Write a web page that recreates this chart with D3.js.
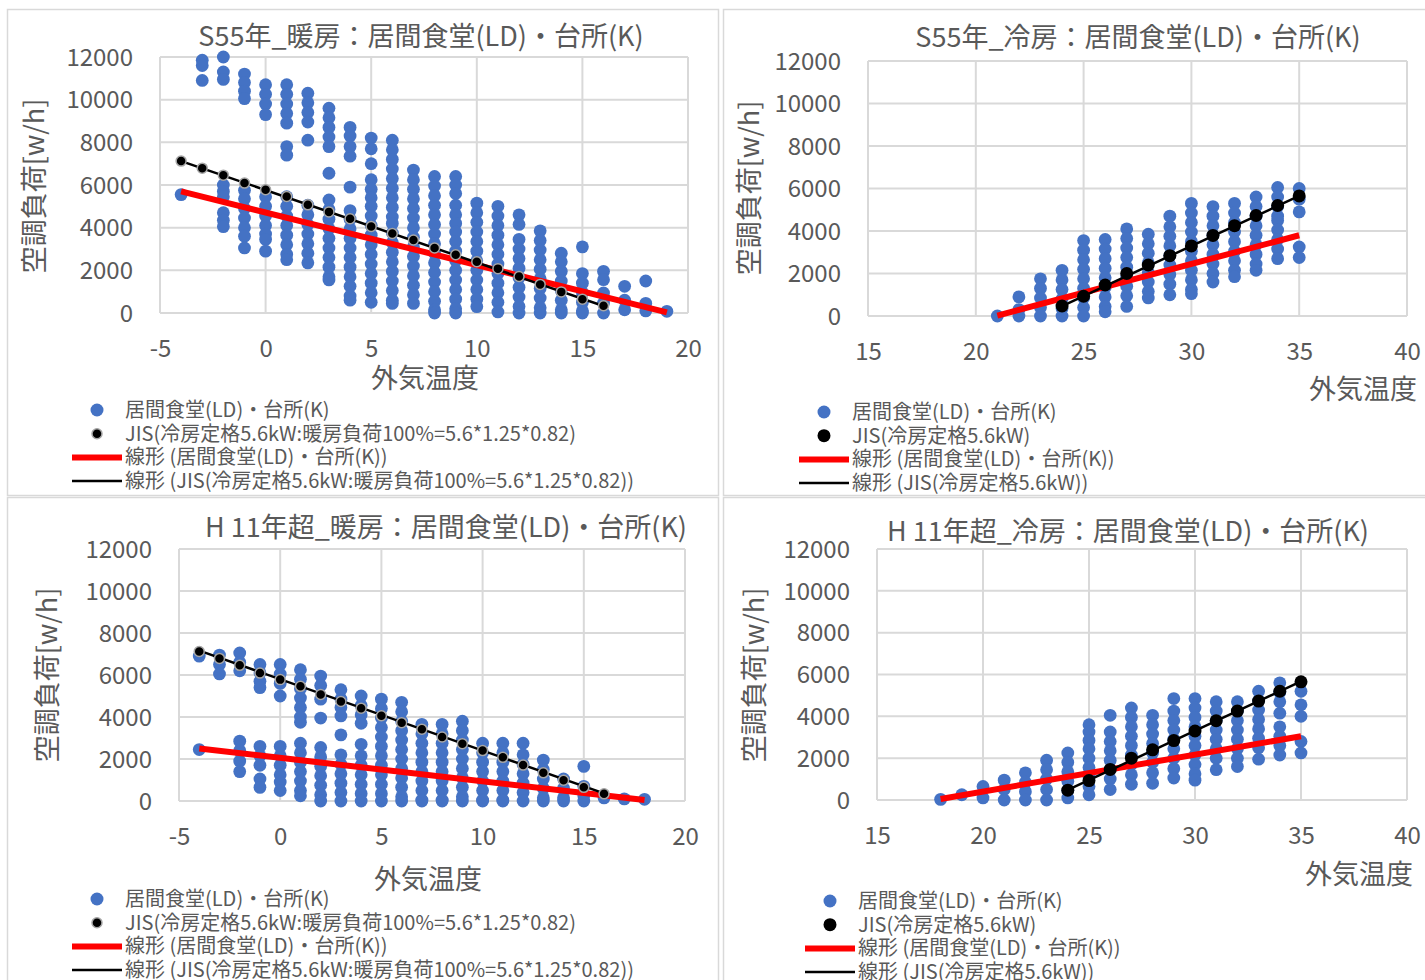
<!DOCTYPE html>
<html>
<head>
<meta charset="utf-8">
<script src="https://cdn.jsdelivr.net/npm/d3@7"></script>
<style>
  body { margin: 0; background: #fff; }
  text { font-family: "Noto Sans CJK JP", "Noto Sans", sans-serif; fill: #595959; }
</style>
</head>
<body>
<svg id="chart" width="1425" height="980"></svg>
<script>
// ---- data ----
const yTicks = [0, 2000, 4000, 6000, 8000, 10000, 12000];
const heatTicks = [-5, 0, 5, 10, 15, 20];
const coolTicks = [15, 20, 25, 30, 35, 40];

const heatLegend = ['居間食堂(LD)・台所(K)', 'JIS(冷房定格5.6kW:暖房負荷100%=5.6*1.25*0.82)',
                    '線形 (居間食堂(LD)・台所(K))', '線形 (JIS(冷房定格5.6kW:暖房負荷100%=5.6*1.25*0.82))'];
const coolLegend = ['居間食堂(LD)・台所(K)', 'JIS(冷房定格5.6kW)',
                    '線形 (居間食堂(LD)・台所(K))', '線形 (JIS(冷房定格5.6kW))'];

// blue scatter: [outdoor temp, [loads]]
const s55HeatLD = [
  [-4, [5550]],
  [-3, [11850, 11600, 10900]],
  [-2, [12000, 11300, 10950, 6000, 5700, 5450, 4700, 4350, 4050]],
  [-1, [11200, 10800, 10400, 10050, 5750, 5350, 4900, 4450, 4000, 3600, 3050]],
  [0, [10700, 10250, 9800, 9300, 5450, 5000, 4550, 4100, 3700, 3450, 2900]],
  [1, [10700, 10250, 9800, 9350, 8900, 7800, 7400, 5450, 5000, 4550, 4100, 3650, 3200, 2750, 2500]],
  [2, [10300, 9850, 9400, 8950, 8100, 5050, 4600, 4150, 3700, 3250, 2800, 2350]],
  [3, [9600, 9150, 8700, 8250, 7800, 6550, 5300, 4850, 4400, 3950, 3500, 3050, 2600, 2150, 1700, 1550]],
  [4, [8700, 8300, 7800, 7350, 5900, 4800, 4400, 3950, 3500, 3050, 2600, 2150, 1700, 1250, 800, 600]],
  [5, [8200, 7700, 7000, 6250, 5800, 5400, 5000, 4550, 4100, 3650, 3200, 2750, 2300, 1850, 1400, 950, 500]],
  [6, [8100, 7650, 7200, 6750, 6300, 5850, 5400, 4950, 4500, 4200, 3750, 3300, 2850, 2400, 1950, 1500, 1050, 600, 450]],
  [7, [6700, 6250, 5800, 5350, 4900, 4450, 4000, 3550, 3100, 2650, 2200, 1750, 1300, 850, 450]],
  [8, [6400, 5950, 5500, 5050, 4600, 4150, 3700, 3250, 2800, 2350, 1900, 1450, 1000, 550, 150, 0]],
  [9, [6400, 6000, 5600, 5050, 4600, 4200, 3800, 3350, 2900, 2450, 2000, 1550, 1100, 650, 200, 0]],
  [10, [5150, 4700, 4250, 3800, 3350, 2900, 2450, 2000, 1550, 1100, 650, 300]],
  [11, [5000, 4550, 4100, 3650, 3200, 2750, 2300, 1850, 1400, 950, 500, 50]],
  [12, [4600, 4150, 3450, 3000, 2550, 2100, 1650, 1200, 750, 300, 0]],
  [13, [3850, 3400, 2950, 2500, 2050, 1600, 1150, 700, 250, 0]],
  [14, [2800, 2400, 1950, 1500, 1050, 600, 150, 0]],
  [15, [3100, 1850, 1400, 950, 500, 100, 0]],
  [16, [1950, 1560, 940, 470, 0]],
  [17, [1250, 600, 150]],
  [18, [1500, 450, 100]],
  [19, [80]]
];
const s55CoolLD = [
  [21, [0]],
  [22, [900, 300, 0]],
  [23, [1750, 1300, 850, 400, 0]],
  [24, [2150, 1700, 1250, 800, 350, 0]],
  [25, [3550, 3100, 2650, 2200, 1750, 1300, 850, 400, 0]],
  [26, [3600, 3150, 2700, 2250, 1800, 1350, 900, 450, 200]],
  [27, [4100, 3650, 3200, 2750, 2300, 1850, 1400, 950, 450]],
  [28, [3850, 3400, 2950, 2500, 2050, 1600, 1150, 850]],
  [29, [4700, 4200, 3750, 3300, 2850, 2400, 1950, 1500, 1000]],
  [30, [5300, 4850, 4400, 3950, 3500, 3050, 2600, 2150, 1700, 1250, 1050]],
  [31, [5150, 4700, 4250, 3800, 3350, 2900, 2450, 2000, 1600]],
  [32, [5300, 4850, 4400, 3950, 3500, 3050, 2600, 2150, 1850]],
  [33, [5600, 5150, 4700, 4250, 3800, 3350, 2900, 2450, 2150]],
  [34, [6050, 5600, 5150, 4700, 4500, 4050, 3600, 3150, 2700]],
  [35, [6000, 5500, 4900, 3250, 2750]]
];
const h11HeatLD = [
  [-4, [6900, 2450]],
  [-3, [6950, 6500, 6050]],
  [-2, [7050, 6600, 6200, 2850, 2400, 1900, 1400]],
  [-1, [6500, 6100, 5700, 5400, 2600, 2150, 1700, 1050, 650]],
  [0, [6500, 6050, 5600, 5000, 2600, 2150, 1700, 1250, 900, 500]],
  [1, [6250, 5800, 5350, 4900, 4450, 4000, 3750, 2750, 2300, 1850, 1400, 950, 500, 250]],
  [2, [5950, 5500, 4850, 3950, 2550, 2100, 1650, 1200, 750, 300, 0]],
  [3, [5300, 4850, 4450, 4050, 3150, 2200, 1750, 1300, 850, 400, 0]],
  [4, [5000, 4550, 4100, 3700, 2700, 2150, 1700, 1250, 800, 350, 0]],
  [5, [4850, 4400, 3950, 3500, 3050, 2600, 2150, 1700, 1250, 800, 350, 0]],
  [6, [4700, 4250, 3800, 3350, 2900, 2450, 2000, 1550, 1100, 650, 200, 0]],
  [7, [3650, 3200, 2750, 2300, 1850, 1400, 950, 500, 50, 0]],
  [8, [3650, 3200, 2750, 2300, 1850, 1400, 950, 500, 50, 0]],
  [9, [3800, 3350, 2900, 2450, 2000, 1550, 1100, 650, 200, 0]],
  [10, [2750, 2300, 1850, 1400, 950, 500, 50, 0]],
  [11, [2750, 2300, 1850, 1400, 950, 500, 50, 0]],
  [12, [2750, 2200, 1750, 1300, 850, 400, 0]],
  [13, [1950, 1500, 1050, 600, 150, 0]],
  [14, [1050, 600, 150, 0]],
  [15, [1650, 700, 250, 0]],
  [16, [150]],
  [17, [100]],
  [18, [80]]
];
const h11CoolLD = [
  [18, [30]],
  [19, [250]],
  [20, [650, 100]],
  [21, [950, 500, 0]],
  [22, [1300, 850, 400, 0]],
  [23, [1900, 1450, 1000, 500, 0]],
  [24, [2250, 1800, 1350, 900, 450, 100]],
  [25, [3600, 3250, 2850, 2450, 2000, 1550, 1100, 650, 250]],
  [26, [4050, 3250, 2800, 2350, 1900, 1450, 1000, 500]],
  [27, [4400, 3950, 3500, 3050, 2600, 2150, 1700, 1200, 750]],
  [28, [4050, 3600, 3150, 2700, 2250, 1800, 1300, 800]],
  [29, [4850, 4250, 3800, 3350, 2900, 2450, 2000, 1500, 1050]],
  [30, [4850, 4400, 3950, 3500, 3050, 2600, 2150, 1700, 1250, 950]],
  [31, [4700, 4250, 3800, 3350, 2900, 2450, 2000, 1450]],
  [32, [4700, 4250, 3800, 3350, 2900, 2450, 2000, 1600]],
  [33, [5200, 4750, 4300, 3850, 3400, 2950, 2500, 1950]],
  [34, [5600, 5150, 4700, 4150, 3500, 3050, 2600, 2150]],
  [35, [5200, 4550, 4000, 2800, 2250]]
];

// JIS points
const jisHeatT = [-4, -3, -2, -1, 0, 1, 2, 3, 4, 5, 6, 7, 8, 9, 10, 11, 12, 13, 14, 15, 16];
const jisHeatLoad = [7120, 6790, 6460, 6090, 5780, 5460, 5070, 4740, 4420, 4060, 3730, 3420, 3050, 2730, 2400, 2080, 1710, 1340, 990, 650, 340];
const jisCoolT = [24, 25, 26, 27, 28, 29, 30, 31, 32, 33, 34, 35];
const jisCoolLoad = [470, 930, 1460, 2000, 2400, 2840, 3300, 3790, 4250, 4730, 5200, 5650];

// trendline end points [temp, load]
const s55HeatRed = [[-4, 5700], [19, 30]];
const s55HeatBlack = [[-4, 7120], [16, 330]];
const s55CoolRed = [[21, 20], [35, 3800]];
const s55CoolBlack = [[24, 470], [35, 5650]];
const h11HeatRed = [[-4, 2500], [18, 50]];
const h11HeatBlack = [[-4, 7160], [16, 360]];
const h11CoolRed = [[18, 50], [35, 3050]];
const h11CoolBlack = [[24, 480], [35, 5670]];

const BLUE = '#4472C4', GRID = '#d9d9d9', TXT = '#595959';

const svg = d3.select('#chart');

// panel frames
[[7, 9, 711, 486], [723, 9, 720, 486], [7, 497, 711, 500], [723, 497, 720, 500]].forEach(b => {
  svg.append('rect').attr('x', b[0] + 0.5).attr('y', b[1] + 0.5).attr('width', b[2]).attr('height', b[3])
     .attr('fill', 'none').attr('stroke', GRID).attr('stroke-width', 1.5);
});

function drawPanel(p) {
  const x = d3.scaleLinear().domain(p.xDomain).range([p.left, p.right]);
  const y = d3.scaleLinear().domain([0, 12000]).range([p.bottom, p.top]);
  const g = svg.append('g');

  // grid
  g.selectAll('.hg').data(yTicks).enter().append('line')
   .attr('x1', p.left).attr('x2', p.right).attr('y1', d => y(d)).attr('y2', d => y(d))
   .attr('stroke', GRID).attr('stroke-width', 2);
  g.selectAll('.vg').data(p.xTicks).enter().append('line')
   .attr('y1', p.top).attr('y2', p.bottom).attr('x1', d => x(d)).attr('x2', d => x(d))
   .attr('stroke', GRID).attr('stroke-width', 2);

  // axes (labels only)
  const ya = g.append('g').attr('transform', `translate(${p.left - 24},0)`)
    .call(d3.axisLeft(y).tickValues(yTicks).tickSize(0).tickFormat(d => String(d)));
  ya.select('.domain').remove();
  ya.selectAll('text').attr('font-size', 24).attr('fill', TXT).attr('dy', '0.34em');

  const xa = g.append('g').attr('transform', `translate(0,${p.bottom + p.xLabGap})`)
    .call(d3.axisBottom(x).tickValues(p.xTicks).tickSize(0).tickFormat(d => String(d)));
  xa.select('.domain').remove();
  xa.selectAll('text').attr('font-size', 24).attr('fill', TXT);

  // blue scatter
  const pts = [];
  p.ld.forEach(c => c[1].forEach(v => pts.push([c[0], v])));
  g.selectAll('.ld').data(pts).enter().append('circle')
   .attr('cx', d => x(d[0])).attr('cy', d => y(d[1])).attr('r', 6.4).attr('fill', BLUE);

  const line = d3.line().x(d => x(d[0])).y(d => y(d[1]));
  g.append('path').attr('d', line(p.red)).attr('stroke', '#ff0000').attr('stroke-width', 6)
   .attr('fill', 'none');
  g.append('path').attr('d', line(p.black)).attr('stroke', '#000').attr('stroke-width', 2.5)
   .attr('fill', 'none');

  g.selectAll('.jis').data(p.jisT).enter().append('circle')
   .attr('cx', d => x(d)).attr('cy', (d, i) => y(p.jisL[i])).attr('r', p.jisR)
   .attr('fill', '#000').attr('stroke', p.jisStroke).attr('stroke-width', p.jisStroke === 'none' ? 0 : 1.5);

  // titles
  g.append('text').attr('x', p.titleX).attr('y', p.titleY).attr('text-anchor', 'middle')
   .attr('font-size', 27).text(p.title);
  g.append('text').attr('transform', `translate(${p.yTitleX},${p.yTitleY}) rotate(-90)`)
   .attr('text-anchor', 'middle').attr('font-size', 27).text('空調負荷[w/h]');
  g.append('text').attr('x', p.xTitleX).attr('y', p.xTitleY).attr('text-anchor', p.xTitleAnchor)
   .attr('font-size', 27).text('外気温度');

  // legend
  const lg = g.append('g').attr('transform', `translate(${p.legX},${p.legY})`);
  p.legend.forEach((t, i) => {
    const yy = i * 23.7;
    if (i === 0) lg.append('circle').attr('cx', 0).attr('cy', yy).attr('r', 6.5).attr('fill', BLUE);
    if (i === 1) lg.append('circle').attr('cx', 0).attr('cy', yy).attr('r', p.jisR)
      .attr('fill', '#000').attr('stroke', p.jisStroke).attr('stroke-width', p.jisStroke === 'none' ? 0 : 1.5);
    if (i === 2) lg.append('line').attr('x1', -25).attr('x2', 25).attr('y1', yy).attr('y2', yy)
      .attr('stroke', '#ff0000').attr('stroke-width', 6);
    if (i === 3) lg.append('line').attr('x1', -25).attr('x2', 25).attr('y1', yy).attr('y2', yy)
      .attr('stroke', '#000').attr('stroke-width', 2.5);
    lg.append('text').attr('x', 28).attr('y', yy).attr('dy', '0.35em').attr('font-size', 20).text(t);
  });
}

drawPanel({
  left: 160, right: 688, top: 57, bottom: 313, xDomain: [-5, 20], xTicks: heatTicks, xLabGap: 24,
  ld: s55HeatLD, red: s55HeatRed, black: s55HeatBlack, jisT: jisHeatT, jisL: jisHeatLoad,
  jisR: 5, jisStroke: '#a6a6a6',
  title: 'S55年_暖房：居間食堂(LD)・台所(K)', titleX: 421, titleY: 46,
  yTitleX: 44, yTitleY: 186, xTitleX: 425, xTitleY: 388, xTitleAnchor: 'middle',
  legX: 97, legY: 410, legend: heatLegend
});
drawPanel({
  left: 868, right: 1407, top: 61, bottom: 316, xDomain: [15, 40], xTicks: coolTicks, xLabGap: 24,
  ld: s55CoolLD, red: s55CoolRed, black: s55CoolBlack, jisT: jisCoolT, jisL: jisCoolLoad,
  jisR: 6.5, jisStroke: 'none',
  title: 'S55年_冷房：居間食堂(LD)・台所(K)', titleX: 1138, titleY: 47,
  yTitleX: 759, yTitleY: 188, xTitleX: 1417, xTitleY: 399, xTitleAnchor: 'end',
  legX: 824, legY: 412, legend: coolLegend
});
drawPanel({
  left: 179, right: 685, top: 549, bottom: 801, xDomain: [-5, 20], xTicks: heatTicks, xLabGap: 24,
  ld: h11HeatLD, red: h11HeatRed, black: h11HeatBlack, jisT: jisHeatT, jisL: jisHeatLoad,
  jisR: 5, jisStroke: '#a6a6a6',
  title: 'H 11年超_暖房：居間食堂(LD)・台所(K)', titleX: 446, titleY: 537,
  yTitleX: 57, yTitleY: 675, xTitleX: 428, xTitleY: 889, xTitleAnchor: 'middle',
  legX: 97, legY: 899, legend: heatLegend
});
drawPanel({
  left: 877, right: 1407, top: 549, bottom: 800, xDomain: [15, 40], xTicks: coolTicks, xLabGap: 24,
  ld: h11CoolLD, red: h11CoolRed, black: h11CoolBlack, jisT: jisCoolT, jisL: jisCoolLoad,
  jisR: 6.5, jisStroke: 'none',
  title: 'H 11年超_冷房：居間食堂(LD)・台所(K)', titleX: 1128, titleY: 541,
  yTitleX: 764, yTitleY: 675, xTitleX: 1413, xTitleY: 884, xTitleAnchor: 'end',
  legX: 830, legY: 901, legend: coolLegend
});
</script>
</body>
</html>
